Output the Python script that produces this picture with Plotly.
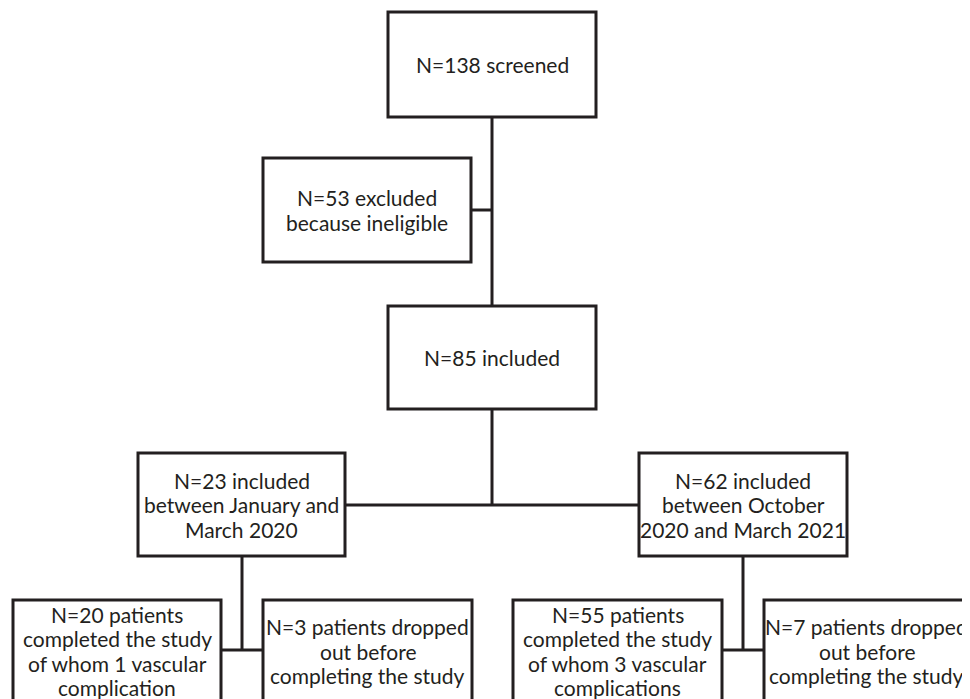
import plotly.graph_objects as go

# Flowchart content
labels = [
    "N=138 screened",
    "N=53 excluded<br>because ineligible",
    "N=85 included",
    "N=23 included<br>between January and<br>March 2020",
    "N=62 included<br>between October<br>2020 and March 2021",
    "N=20 patients<br>completed the study<br>of whom 1 vascular<br>complication",
    "N=3 patients dropped<br>out before<br>completing the study",
    "N=55 patients<br>completed the study<br>of whom 3 vascular<br>complications",
    "N=7 patients dropped<br>out before<br>completing the study",
]

# Box geometry (x0, x1, y0, y1) in pixel space, y downward
boxes = [
    (388, 596, 12, 117),
    (263, 471, 158, 262),
    (388, 596, 306, 409),
    (138, 345, 453, 556),
    (639, 847, 453, 556),
    (13, 221, 600, 702),
    (263, 472, 600, 702),
    (513, 722, 600, 702),
    (764, 969.5, 600, 702),
]

# Connector lines (x0, y0, x1, y1)
connectors = [
    (492, 117, 492, 306),
    (471, 210, 492, 210),
    (492, 409, 492, 505),
    (345, 505, 639, 505),
    (242, 556, 242, 650),
    (221, 650, 263, 650),
    (743, 556, 743, 650),
    (722, 650, 764, 650),
]

INK = "#231f20"
W, H = 970, 699
OFF = 8  # page body margin
LINE_GAP = 24.5

fig = go.Figure()
shapes = []
for (x0, y0, x1, y1) in connectors:
    shapes.append(dict(type="line", xref="x", yref="y", x0=x0, y0=y0, x1=x1, y1=y1,
                       line=dict(color=INK, width=3), layer="below"))
for (x0, x1, y0, y1) in boxes:
    shapes.append(dict(type="rect", xref="x", yref="y", x0=x0, x1=x1, y0=y0, y1=y1,
                       line=dict(color=INK, width=3), fillcolor="white", layer="above"))

annotations = []
for lab, (x0, x1, y0, y1) in zip(labels, boxes):
    lines = lab.split("<br>")
    n = len(lines)
    cx = (x0 + x1) / 2 if x1 < 969 else 866.5
    cy = (y0 + y1) / 2
    for i, ln in enumerate(lines):
        annotations.append(dict(x=cx, y=cy + (i - (n - 1) / 2) * LINE_GAP,
                                xref="x", yref="y", text=ln, showarrow=False,
                                font=dict(family="Lato", size=21, color=INK),
                                align="center", xanchor="center", yanchor="middle"))

fig.update_layout(
    width=W - OFF, height=H - OFF,
    margin=dict(l=0, r=0, t=0, b=0),
    paper_bgcolor="white", plot_bgcolor="white",
    xaxis=dict(range=[OFF, W], visible=False, fixedrange=True),
    yaxis=dict(range=[H, OFF], visible=False, fixedrange=True),
    shapes=shapes, annotations=annotations, showlegend=False,
)

fig.write_html("out.html")
